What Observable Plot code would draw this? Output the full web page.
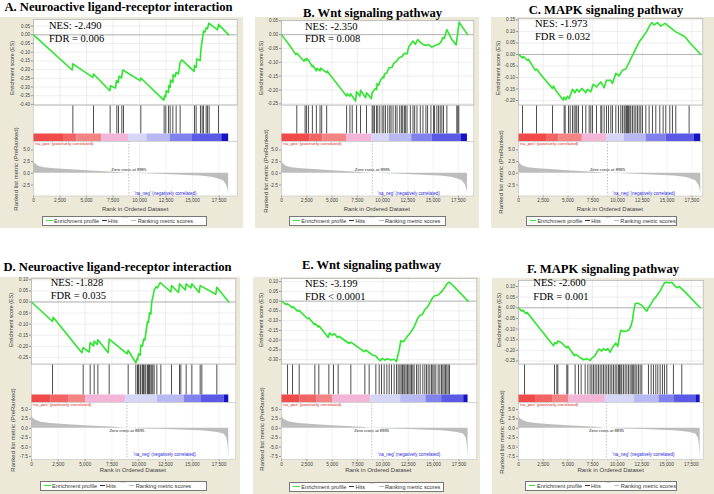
<!DOCTYPE html>
<html><head><meta charset="utf-8">
<script src="https://cdn.jsdelivr.net/npm/d3@7"></script>
<script src="https://cdn.jsdelivr.net/npm/@observablehq/plot@0.6"></script>
<style>
body{margin:0;background:#fff;}
#fig{position:relative;width:714px;height:494px;overflow:hidden;background:#fff;font-family:"Liberation Sans",Arial,sans-serif;}
#fig > *{position:absolute;}
.box{background:#ece9d8;}
.title{font-family:"Liberation Serif","Times New Roman",serif;font-weight:bold;font-size:12.6px;white-space:nowrap;transform:translate(-50%,-50%);line-height:1;}
.stat{font-family:"Liberation Serif","Times New Roman",serif;font-size:10.5px;white-space:nowrap;line-height:1;transform:translateY(-50%);}
.vlab{white-space:nowrap;transform:translate(-50%,-50%) rotate(-90deg);color:#444;line-height:1;}
.xlab{white-space:nowrap;transform:translate(-50%,-50%);color:#444;font-size:6px;line-height:1;}
.legend{border:0.8px solid #777;background:#fff;font-size:5.6px;color:#333;display:flex;align-items:center;box-sizing:border-box;padding-left:1px;white-space:nowrap;}
.sw{display:inline-block;margin:0 1.5px 0 2px;}
</style></head><body><div id="fig"></div>
<script>
// ---------------- data ----------------
const N = 18400;
const xTicks = [0,2500,5000,7500,10000,12500,15000,17500];
const titles = ["A. Neuroactive ligand-receptor interaction","B. Wnt signaling pathway","C. MAPK signaling pathway","D. Neuroactive ligand-receptor interaction","E. Wnt signaling pathway","F. MAPK signaling pathway"];
const nesLabels = ["NES: -2.490","NES: -2.350","NES: -1.973","NES: -1.828","NES: -3.199","NES: -2.600"];
const fdrLabels = ["FDR = 0.006","FDR = 0.008","FDR = 0.032","FDR = 0.035","FDR < 0.0001","FDR = 0.001"];
const esTicksA = [0.05,0,-0.05,-0.10,-0.15,-0.20,-0.25,-0.30,-0.35,-0.40];
const esTicksB = [0.05,0,-0.05,-0.10,-0.15,-0.20,-0.25];
const esTicksC = [0.15,0.10,0.05,0,-0.05,-0.10,-0.15,-0.20];
const esTicksD = [0.10,0.05,0,-0.05,-0.10,-0.15,-0.20,-0.25];
const esTicksE = [0.10,0.05,0,-0.05,-0.10,-0.15,-0.20,-0.25,-0.30];
const esTicksF = [0.10,0.05,0,-0.05,-0.10,-0.15,-0.20,-0.25];
const metTicksTop = [5,2.5,0,-2.5];
const metTicksBottom = [5,2.5,0,-2.5,-5,-7.5];

const esA = [[0,0],[3645,-0.202],[3708,-0.167],[5593,-0.244],[5656,-0.225],[7195,-0.321],[7258,-0.292],[7729,-0.306],[7824,-0.263],[7981,-0.275],[8075,-0.237],[8295,-0.248],[8421,-0.202],[10054,-0.263],[10117,-0.248],[12285,-0.375],[12348,-0.350],[12474,-0.356],[12505,-0.321],[12725,-0.331],[12757,-0.292],[12882,-0.302],[12914,-0.260],[13134,-0.273],[13165,-0.229],[13354,-0.240],[13448,-0.215],[13668,-0.225],[13825,-0.158],[13982,-0.144],[15144,-0.210],[15176,-0.177],[15333,-0.187],[15396,-0.138],[15710,-0.148],[15773,-0.090],[15899,-0.033],[16024,0.021],[16150,0.015],[16276,0.040],[16401,0.035],[16527,0.067],[17344,0.029],[17438,0.060],[18400,0]];
const esB = [[0,0],[920,-0.045],[1413,-0.072],[1511,-0.067],[2234,-0.096],[2332,-0.088],[2464,-0.093],[2500,-0.086],[2661,-0.092],[3055,-0.116],[3100,-0.111],[3449,-0.131],[3500,-0.122],[3811,-0.131],[3850,-0.121],[4468,-0.137],[4510,-0.131],[6439,-0.222],[6504,-0.214],[6767,-0.222],[6830,-0.213],[7326,-0.240],[7424,-0.206],[7753,-0.222],[7818,-0.201],[8311,-0.228],[8410,-0.210],[8902,-0.231],[8968,-0.210],[9296,-0.194],[9400,-0.199],[9461,-0.177],[9630,-0.182],[9789,-0.165],[10052,-0.152],[10120,-0.156],[10184,-0.143],[10446,-0.137],[10610,-0.121],[10939,-0.118],[11103,-0.104],[11432,-0.094],[11596,-0.084],[11925,-0.079],[12155,-0.067],[12417,-0.070],[12581,-0.045],[12811,-0.033],[13009,-0.023],[13239,-0.035],[13469,-0.018],[13896,-0.033],[14224,-0.039],[14550,-0.036],[14881,-0.045],[15210,-0.039],[15538,-0.035],[15768,-0.027],[15965,-0.011],[16100,-0.014],[16359,0.018],[16852,-0.018],[17280,-0.037],[17575,0.045],[18400,0]];
const esC = [[0,0],[404,-0.015],[505,-0.009],[908,-0.026],[1009,-0.021],[1682,-0.068],[1817,-0.063],[2422,-0.097],[3431,-0.147],[3532,-0.137],[3768,-0.156],[4508,-0.197],[4609,-0.185],[4777,-0.196],[4945,-0.182],[5113,-0.191],[5450,-0.151],[5685,-0.166],[5887,-0.151],[6123,-0.162],[6392,-0.147],[6795,-0.166],[6964,-0.151],[7300,-0.162],[7535,-0.129],[7872,-0.141],[8309,-0.119],[8645,-0.144],[8881,-0.112],[9318,-0.112],[9486,-0.126],[9823,-0.082],[10159,-0.093],[10496,-0.068],[10832,-0.063],[11168,-0.034],[11505,-0.004],[11841,0.025],[12177,0.054],[12514,0.074],[12918,0.098],[13187,0.121],[13456,0.138],[13692,0.128],[14028,0.138],[14364,0.123],[14801,0.135],[15205,0.121],[15878,0.098],[16719,0.079],[16887,0.073],[17223,0.054],[18400,0]];
const esD = [[0,0],[1959,-0.088],[2021,-0.069],[4695,-0.229],[4819,-0.206],[5379,-0.226],[5472,-0.183],[5783,-0.198],[5845,-0.177],[6125,-0.192],[6187,-0.171],[7151,-0.229],[7244,-0.168],[8923,-0.234],[9016,-0.218],[9731,-0.275],[9824,-0.257],[9887,-0.262],[9980,-0.234],[10135,-0.240],[10197,-0.195],[10353,-0.200],[10446,-0.168],[10571,-0.172],[10664,-0.141],[10820,-0.088],[10913,-0.092],[11006,-0.049],[11130,-0.055],[11224,0.005],[11317,0.020],[11441,0.054],[11628,0.069],[11752,0.063],[12001,0.088],[12996,0.045],[13058,0.074],[13711,0.043],[13804,0.082],[14333,0.054],[14426,0.082],[14861,0.063],[14955,0.082],[15639,0.043],[15732,0.074],[17192,0.035],[17286,0.066],[18400,0]];
const esE = [[0,0],[427,-0.017],[592,-0.014],[1085,-0.034],[1150,-0.029],[1578,-0.051],[1742,-0.047],[2564,-0.090],[2700,-0.086],[3221,-0.119],[3300,-0.115],[3616,-0.132],[3714,-0.127],[4602,-0.186],[4733,-0.163],[5029,-0.175],[5193,-0.166],[5522,-0.186],[5650,-0.180],[6673,-0.217],[6837,-0.210],[8152,-0.259],[8316,-0.251],[8974,-0.276],[9302,-0.281],[9467,-0.293],[9730,-0.305],[9960,-0.293],[10190,-0.302],[10453,-0.295],[10782,-0.302],[11111,-0.298],[11340,-0.310],[11439,-0.285],[11603,-0.251],[11768,-0.203],[12031,-0.208],[12261,-0.192],[12425,-0.180],[12688,-0.163],[12918,-0.146],[13148,-0.124],[13411,-0.090],[13641,-0.073],[13904,-0.068],[14134,-0.044],[14397,-0.031],[14660,-0.005],[14890,0.017],[15153,0.029],[15383,0.029],[15646,0.041],[15877,0.054],[16107,0.071],[16304,0.088],[16534,0.097],[16764,0.088],[18400,0]];
const esF = [[0,0],[338,-0.016],[439,-0.011],[776,-0.028],[878,-0.022],[3544,-0.178],[3679,-0.163],[3881,-0.169],[3983,-0.156],[4320,-0.163],[4894,-0.188],[4995,-0.181],[5670,-0.225],[5805,-0.219],[6143,-0.231],[6581,-0.244],[6919,-0.239],[7256,-0.247],[7493,-0.234],[7695,-0.228],[7931,-0.208],[8168,-0.194],[8438,-0.203],[8606,-0.192],[8876,-0.200],[9045,-0.192],[9281,-0.209],[9450,-0.192],[9653,-0.177],[9855,-0.166],[10058,-0.181],[10226,-0.134],[10361,-0.106],[10631,-0.111],[10969,-0.109],[11205,-0.103],[11408,-0.083],[11543,-0.059],[11678,-0.013],[11813,0.019],[12049,0.022],[12319,0.016],[12488,0.011],[12994,-0.016],[13163,0.0],[13433,0.019],[13669,0.038],[13905,0.050],[14108,0.063],[14344,0.078],[14580,0.100],[14783,0.117],[15019,0.120],[15255,0.116],[15525,0.120],[15795,0.105],[16031,0.094],[16268,0.100],[16538,0.089],[16808,0.077],[18400,0]];

const hitsA = [3708,5656,7226,7855,8012,8326,8483,10117,12317,12474,12725,12882,13134,13448,13825,15176,15333,15741,15899,16024,16276,16401,16558,17438];
const hitsB = [1511,2332,2464,2661,3055,3449,3811,3975,4468,6439,6767,6997,7424,7818,8410,8968,9067,9198,9395,9527,9724,9954,10118,10282,10512,10709,10840,11038,11268,11432,11695,11859,11990,12155,12253,12417,12746,13009,13173,13403,13731,13994,14290,14454,14783,15045,15144,15374,15538,15702,15867,16031,16359,17345,17443,17542];
const hitsC = [404,1817,3431,4609,4710,5046,5214,5450,5618,5786,5887,6055,6459,6795,7132,7300,7468,7872,8309,8410,8645,8881,9083,9318,9486,9823,10092,10327,10496,10664,10765,10899,11000,11101,11236,11337,11505,11673,11841,12009,12177,12346,12514,12850,13187,13523,13860,14263,14600,14869,15272,15541,15878,17223];
const hitsD = [1959,4819,5472,5845,6187,7244,9016,9731,9887,9980,10135,10197,10353,10446,10571,10664,10820,10913,11006,11130,11224,11317,11441,11690,12063,13058,13804,13928,14426,14955,15732,15887,17286];
const hitsE = [592,1085,1742,3287,3681,4668,5128,5588,6837,8218,8645,9302,9631,9861,10124,10387,10617,10847,11110,11340,11505,11669,11800,11932,12063,12162,12293,12425,12556,12688,12819,12951,13082,13312,13477,13674,13937,14134,14298,14463,14627,14792,14923,15055,15219,15449,15613,15778,15910,16041,16173,16304,16436,16567];
const hitsF = [608,3645,3881,3983,4894,4995,5738,6075,6345,6750,7020,7256,7425,7594,7763,7931,8100,8269,8438,8606,8775,8944,9113,9281,9450,9619,9788,9956,10125,10226,10361,10463,10631,10800,10969,11138,11306,11475,11576,11678,11813,11981,12150,12319,12488,13163,13433,13669,13905,14108,14344,14580,14783,15019,15694,16538];

const metricTop = [[0,3.0],[50,2.6],[150,2.1],[300,1.8],[500,1.5],[1000,1.2],[2000,0.95],[3200,0.8],[5000,0.55],[6300,0.38],[7500,0.22],[8985,0],[10500,-0.12],[12500,-0.25],[14500,-0.45],[15700,-0.6],[16800,-0.85],[17300,-1.1],[17900,-1.6],[18200,-2.5],[18350,-3.6],[18400,-4.6]];
const metricBottom = [[0,3.6],[50,3.0],[250,2.4],[500,2.0],[900,1.6],[1800,1.25],[3400,0.95],[5000,0.7],[6500,0.5],[7800,0.25],[8895,0],[10500,-0.2],[12700,-0.35],[14500,-0.5],[15800,-0.65],[16800,-0.9],[17350,-1.1],[17950,-1.5],[18200,-2.5],[18330,-4.5],[18400,-8.1]];
const zeroCross = [8985, 8895];
const zeroLabels = ["Zero cross at 8985","Zero cross at 8895"];
const barBreaksTop = [0,2828,4085,6441,8955,10683,12882,14925,17753,18400];
const barBreaksBottom = [0,1803,3513,5068,8798,11752,14239,15794,17970,18400];
const barColors = ["#f04a4a","#f26464","#f48484","#f3b6d8","#d6d6f6","#b8b8f3","#8282ef","#5a5ae6","#1414c2"];

// ---------------- layout ----------------
const esData = [esA,esB,esC,esD,esE,esF];
const hitsData = [hitsA,hitsB,hitsC,hitsD,hitsE,hitsF];
const esTicks = [esTicksA,esTicksB,esTicksC,esTicksD,esTicksE,esTicksF];
const layout = [
 {box:[0,17,243,228], title:[118.5,7], stat:[49,26,39], left:33.3, nPx:228.5, right:237, es:[19,-0.403,0.088], row:0, esLab:[12.7,68], metLab:[16,169], legend:[42,216,165]},
 {box:[255,17,479,228], title:[372.6,13.2], stat:[305,26.5,38.9], left:280.7, nPx:466.7, right:473, es:[20,-0.254,0.051], row:0, esLab:[261.7,68], metLab:[266,171], legend:[289.3,216,157]},
 {box:[491,17,714,228], title:[606,9.5], stat:[535,24,36.7], left:517.7, nPx:700, right:702, es:[18,-0.219,0.156], row:0, esLab:[499,68], metLab:[501,171.7], legend:[525.7,216,151]},
 {box:[0,277,240,494], title:[117.5,266.7], stat:[50.7,283.3,296], left:30.7, nPx:228, right:235, es:[278,-0.280,0.106], row:1, esLab:[11.7,320], metLab:[13.3,430], legend:[40,481,167]},
 {box:[253,277,480,494], title:[371.5,265], stat:[305,283.7,296.7], left:280.7, nPx:467.3, right:476, es:[278,-0.322,0.116], row:1, esLab:[261.7,320], metLab:[261.7,429], legend:[289.3,482,155]},
 {box:[491.7,278,714,494], title:[603,269], stat:[533.3,283.3,296.7], left:518.3, nPx:700, right:703, es:[280,-0.264,0.128], row:1, esLab:[500,320], metLab:[501.7,431.5], legend:[525,481,152]}
];
const rows = [
 {hits:[104.5,133], bar:[133,140.5], met:[140.5,195,-4.86,6.81], xLab:209, metric:metricTop, ticks:metTicksTop, breaks:barBreaksTop, zeroY:0.86, negY:-4.3},
 {hits:[363.5,394], bar:[394,402], met:[402,459,-8.3,6.86], xLab:470, metric:metricBottom, ticks:metTicksBottom, breaks:barBreaksBottom, zeroY:-0.6, negY:-7.1}
];

const fig = document.getElementById("fig");
function el(cls, x, y, text, css) {
  const d = document.createElement("div");
  d.className = cls; d.style.left = x + "px"; d.style.top = y + "px";
  if (text != null) d.textContent = text;
  if (css) Object.assign(d.style, css);
  fig.appendChild(d); return d;
}
const ML = 30, MR = 6, MT = 6, MB = 16;
function sub(left, top, w, h, opts) {
  const svg = Plot.plot({
    width: w + ML + MR, height: h + MT + MB,
    marginLeft: ML, marginRight: MR, marginTop: MT, marginBottom: MB,
    style: {background: "transparent", overflow: "visible", maxWidth: "none", fontFamily: "Liberation Sans, Arial, sans-serif", fontSize: "5px", color: "#444"},
    ...opts
  });
  svg.style.position = "absolute";
  svg.style.left = (left - ML) + "px";
  svg.style.top = (top - MT) + "px";
  fig.appendChild(svg);
}
const fmtX = d3.format(",");

layout.forEach((P, i) => {
  const R = rows[P.row];
  const [bx0, by0, bx1, by1] = P.box;
  el("box", bx0, by0, null, {width: (bx1 - bx0) + "px", height: (by1 - by0) + "px"});
  const W = P.right - P.left;
  const xmax = N * W / (P.nPx - P.left);
  const xs = {domain: [0, xmax]};

  // ES plot
  const esH = R.hits[0] - P.es[0];
  sub(P.left, P.es[0], W, esH, {
    x: {...xs, axis: null},
    y: {domain: [P.es[1], P.es[2]]},
    marks: [
      Plot.frame({fill: "white"}),
      Plot.gridX(xTicks, {stroke: "#dcdcdc", strokeOpacity: 1, strokeWidth: 0.5}),
      Plot.gridY(esTicks[i], {stroke: "#dcdcdc", strokeOpacity: 1, strokeWidth: 0.5}),
      Plot.ruleY([0], {stroke: "#999", strokeWidth: 0.7}),
      Plot.line(esData[i], {x: d => d[0], y: d => d[1], stroke: "#2ee62e", strokeWidth: 1.6}),
      Plot.axisY(esTicks[i], {tickFormat: d => d.toFixed(2), tickSize: 2, tickPadding: 1.5, fontSize: 4.6, label: null, stroke: "#999"}),
      Plot.frame({stroke: "#b0b0b0", strokeWidth: 0.7})
    ]
  });

  // hits + colour bar
  const hH = R.bar[1] - R.hits[0];
  const bH = R.bar[1] - R.bar[0];
  const segs = barColors.map((c, k) => ({x1: R.breaks[k], x2: R.breaks[k + 1], c}));
  sub(P.left, R.hits[0], W, hH, {
    x: {...xs, axis: null},
    y: {domain: [0, hH], axis: null},
    color: {type: "identity"},
    marks: [
      Plot.frame({fill: "white"}),
      Plot.gridX(xTicks, {stroke: "#e4e4e4", strokeOpacity: 1, strokeWidth: 0.5}),
      Plot.ruleX(hitsData[i], {x: d => d, y1: bH, y2: hH, stroke: "#222", strokeWidth: 0.8}),
      Plot.rect(segs, {x1: "x1", x2: "x2", y1: 0, y2: bH, fill: "c"}),
      Plot.frame({stroke: "#c8c8c8", strokeWidth: 0.6})
    ]
  });

  // ranked metric
  const mH = R.met[1] - R.met[0];
  sub(P.left, R.met[0], W, mH, {
    x: xs,
    y: {domain: [R.met[2], R.met[3]]},
    marks: [
      Plot.frame({fill: "white"}),
      Plot.gridX(xTicks, {stroke: "#e6e6e6", strokeOpacity: 1, strokeWidth: 0.5}),
      Plot.areaY(R.metric, {x: d => d[0], y: d => d[1], fill: "#bdbdbd"}),
      Plot.ruleX([zeroCross[P.row]], {stroke: "#999", strokeWidth: 0.6, strokeDasharray: "1.5,1.5"}),
      Plot.text([zeroLabels[P.row]], {x: zeroCross[P.row], y: R.zeroY, fontSize: 4.2, fill: "#222"}),
      Plot.text(["'na_pos' (positively correlated)"], {frameAnchor: "top-left", dx: 1, dy: 0.6, lineAnchor: "top", textAnchor: "start", fontSize: 4.4, fill: "#e02828"}),
      Plot.text(["'na_neg' (negatively correlated)"], {x: 9500, y: R.negY, textAnchor: "start", fontSize: 4.5, fill: "#2828d8"}),
      Plot.axisY(R.ticks, {tickFormat: d => d.toFixed(1), tickSize: 2, tickPadding: 1.5, fontSize: 4.8, label: null, stroke: "#999"}),
      Plot.axisX(xTicks, {tickFormat: fmtX, tickSize: 2, tickPadding: 1, fontSize: 4.8, label: null, stroke: "#999"}),
      Plot.frame({stroke: "#c0c0c0", strokeWidth: 0.6})
    ]
  });

  // texts
  el("title", P.title[0], P.title[1], titles[i]);
  el("stat", P.stat[0], P.stat[1], nesLabels[i]);
  el("stat", P.stat[0], P.stat[2], fdrLabels[i]);
  el("vlab", P.esLab[0], P.esLab[1], "Enrichment score (ES)", {fontSize: "5.4px"});
  el("vlab", P.metLab[0], P.metLab[1], "Ranked list metric (PreRanked)", {fontSize: "6px"});
  el("xlab", P.left + W / 2, R.xLab, "Rank in Ordered Dataset");

  // legend
  const lg = el("legend", P.legend[0], P.legend[1], null, {width: P.legend[2] + "px", height: "9.5px"});
  lg.innerHTML =
    '<span class="sw" style="width:6.5px;height:1.4px;background:#2ee62e"></span><span>Enrichment profile</span>' +
    '<span class="sw" style="width:5px;height:0.9px;background:#333;margin-left:2.5px"></span><span>Hits</span>' +
    '<span class="sw" style="width:6px;height:0.8px;background:#e0e0e0;margin-left:4px;position:relative;top:-3px"></span>' +
    '<span class="sw" style="width:5px;height:0.8px;background:#bbb;margin-left:2px"></span><span>Ranking metric scores</span>';
});
</script></body></html>
